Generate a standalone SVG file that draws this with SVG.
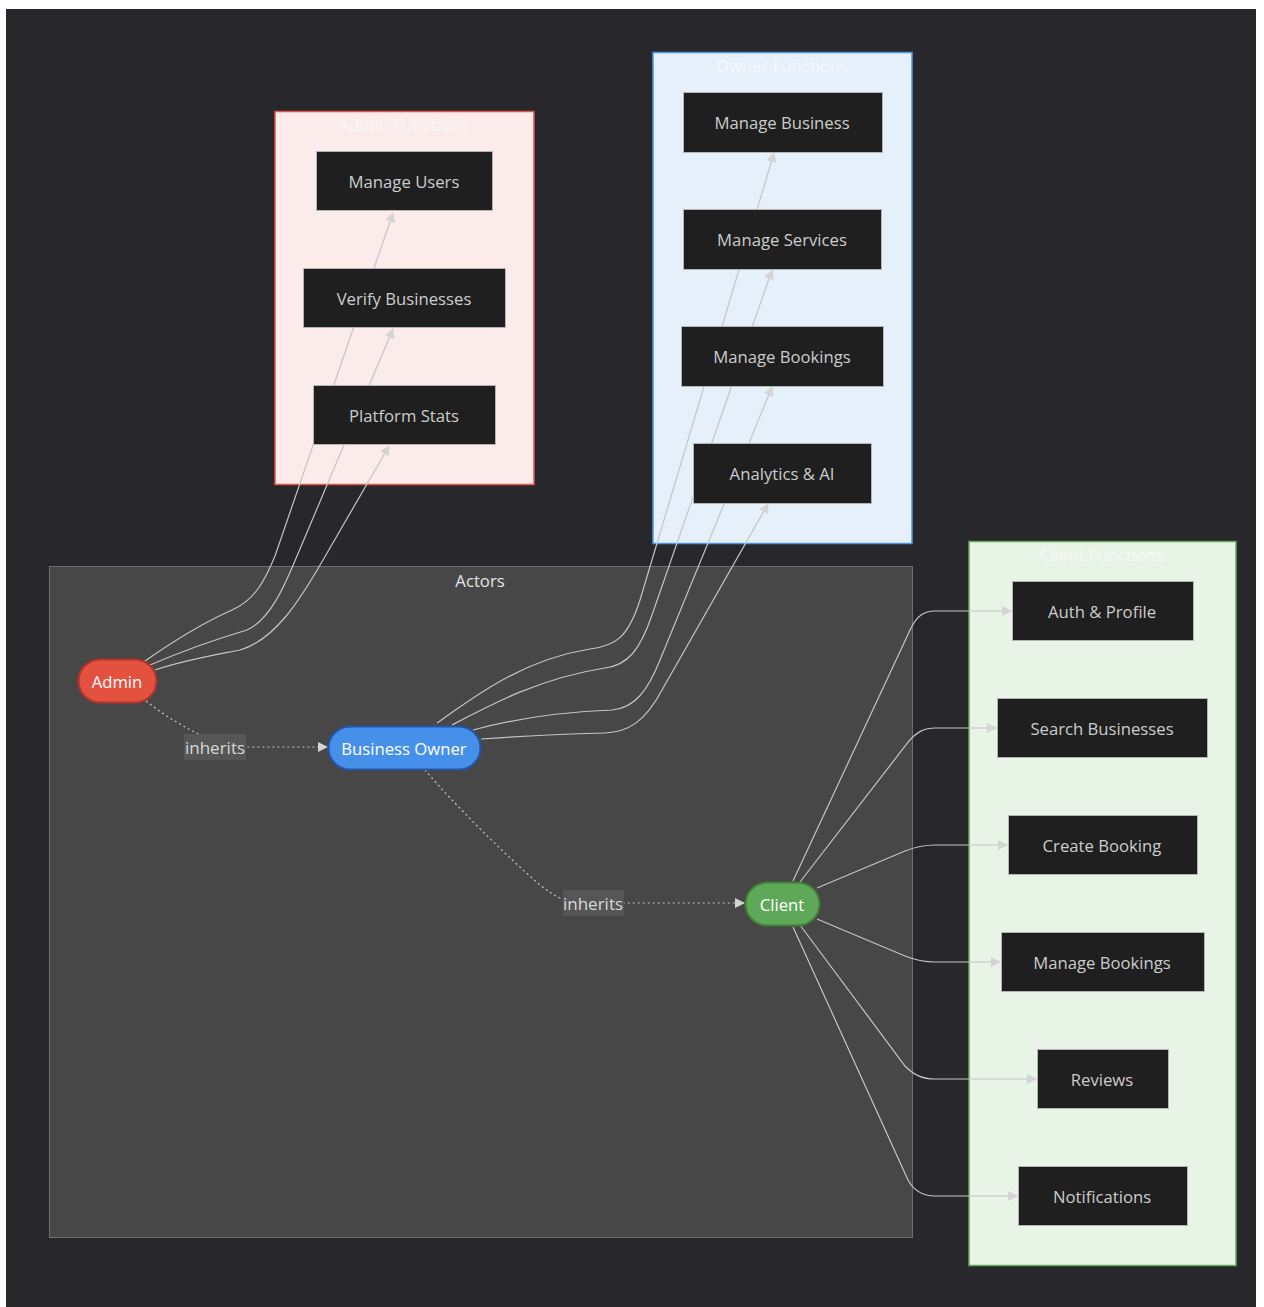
<svg xmlns="http://www.w3.org/2000/svg" width="1264" height="1307" viewBox="0 0 1264 1307">
  <defs>
    <style>
      text { font-family: "Open Sans", "DejaVu Sans", sans-serif; font-size: 16.7px; text-anchor: middle; dominant-baseline: central; }
      .cluster-title { fill: #f7f7f7; }
      .actors-title { fill: #e6e6e6; }
      .box rect { fill: #1f1f1f; stroke: #b4b4b4; stroke-width: 1; }
      .box text { fill: #cccccc; }
      .actor text { fill: #ffffff; }
      .edge { fill: none; stroke: #c4c4c4; stroke-width: 1.2; }
      .dotted { fill: none; stroke: #c4c4c4; stroke-width: 1.2; stroke-dasharray: 2 3; }
      .elabel rect { fill: #565656; }
      .elabel text { fill: #d8d8d8; font-size: 17px; }
    </style>
    <marker id="arrow" viewBox="0 0 10 10" refX="9" refY="5" markerWidth="10" markerHeight="10" markerUnits="userSpaceOnUse" orient="auto">
      <path d="M0,0 L10,5 L0,10 z" fill="#d4d4d4"/>
    </marker>
  </defs>

  <!-- canvas -->
  <rect x="0" y="0" width="1264" height="1307" fill="#ffffff"/>
  <rect x="6" y="9" width="1250" height="1298" fill="#28282c"/>

  <!-- clusters -->
  <g id="cluster-actors">
    <rect x="49.5" y="566.5" width="863" height="671" fill="#474747" stroke="#6e6e6e" stroke-width="1"/>
    <text class="actors-title" x="480" y="580">Actors</text>
  </g>
  <g id="cluster-admin">
    <rect x="275" y="111.5" width="259" height="373" fill="#fbeceb" stroke="#e0564a" stroke-width="1.5"/>
    <text class="cluster-title" x="404" y="124">Admin Functions</text>
  </g>
  <g id="cluster-owner">
    <rect x="653" y="52.5" width="259" height="491" fill="#e6f0fb" stroke="#4f94e6" stroke-width="1.5"/>
    <text class="cluster-title" x="782" y="65">Owner Functions</text>
  </g>
  <g id="cluster-client">
    <rect x="969" y="541.5" width="267" height="724" fill="#e7f4e6" stroke="#64a95c" stroke-width="1.5"/>
    <text class="cluster-title" x="1102" y="554">Client Functions</text>
  </g>

  <!-- connectors -->
  <g id="connectors">
    <!-- Admin to admin functions -->
    <path class="edge" marker-end="url(#arrow)" d="M145,661 C175,640 205,622 232,610 C255,600 265,580 275,556 L393,213"/>
    <path class="edge" marker-end="url(#arrow)" d="M150,665 C185,650 220,638 247,630 C270,620 285,585 297,556 L393,329"/>
    <path class="edge" marker-end="url(#arrow)" d="M155,670 C185,660 215,655 240,650 C275,640 300,600 323,560 L389,446"/>

    <!-- Business Owner to owner functions -->
    <path class="edge" marker-end="url(#arrow)" d="M437,723 C470,700 520,660 590,649 C615,646 628,638 640,600 L774,153"/>
    <path class="edge" marker-end="url(#arrow)" d="M452,725 C490,705 540,678 605,668 C628,665 640,650 652,615 L772,270"/>
    <path class="edge" marker-end="url(#arrow)" d="M473,730 C510,720 560,712 612,710 C635,708 648,690 660,660 L772,387"/>
    <path class="edge" marker-end="url(#arrow)" d="M481,739 C520,736 570,734 605,733 C628,732 645,722 662,690 L768,504"/>

    <!-- Client to client functions -->
    <path class="edge" marker-end="url(#arrow)" d="M793,881 L911,628 C917,616 924,611 935,611 L1011,611"/>
    <path class="edge" marker-end="url(#arrow)" d="M800,882 L909,741 C917,732 924,728 935,728 L996,728"/>
    <path class="edge" marker-end="url(#arrow)" d="M817,888 L905,851 C915,847 924,845 935,845 L1007,845"/>
    <path class="edge" marker-end="url(#arrow)" d="M817,919 L905,956 C915,960 924,962 935,962 L1000,962"/>
    <path class="edge" marker-end="url(#arrow)" d="M800,925 L905,1066 C914,1075 922,1079 935,1079 L1036,1079"/>
    <path class="edge" marker-end="url(#arrow)" d="M793,927 L908,1180 C914,1191 922,1196 935,1196 L1017,1196"/>

    <!-- inheritance -->
    <path class="dotted" marker-end="url(#arrow)" d="M146,701 C165,716 185,728 205,737 C210,742 212,747 225,747 L327,747"/>
    <path class="dotted" marker-end="url(#arrow)" d="M425,770 C455,805 500,850 540,885 C555,897 565,903 590,903 L744,903"/>

    <g class="elabel">
      <rect x="184" y="734" width="62" height="26"/>
      <text x="215" y="747">inherits</text>
    </g>
    <g class="elabel">
      <rect x="563" y="890" width="61" height="26"/>
      <text x="593" y="903">inherits</text>
    </g>
  </g>

  <!-- actor nodes -->
  <g id="node-admin" class="actor">
    <rect x="78.5" y="659.5" width="78" height="43" rx="21.5" ry="21.5" fill="#e3513f" stroke="#b3322a" stroke-width="2"/>
    <text x="117" y="681">Admin</text>
  </g>
  <g id="node-owner" class="actor">
    <rect x="328.5" y="726.5" width="152" height="43" rx="21.5" ry="21.5" fill="#4690e9" stroke="#2356ab" stroke-width="2"/>
    <text x="404" y="748">Business Owner</text>
  </g>
  <g id="node-client" class="actor">
    <rect x="745.5" y="882.5" width="74" height="43" rx="21.5" ry="21.5" fill="#5fa859" stroke="#3e7e37" stroke-width="2"/>
    <text x="782" y="904">Client</text>
  </g>

  <!-- admin functions -->
  <g id="node-manage-users" class="box">
    <rect x="316.5" y="151.5" width="176" height="59"/>
    <text x="404" y="181">Manage Users</text>
  </g>
  <g id="node-verify-businesses" class="box">
    <rect x="303.5" y="268.5" width="202" height="59"/>
    <text x="404" y="298">Verify Businesses</text>
  </g>
  <g id="node-platform-stats" class="box">
    <rect x="313.5" y="385.5" width="182" height="59"/>
    <text x="404" y="415">Platform Stats</text>
  </g>

  <!-- owner functions -->
  <g id="node-manage-business" class="box">
    <rect x="683.5" y="92.5" width="199" height="60"/>
    <text x="782" y="122">Manage Business</text>
  </g>
  <g id="node-manage-services" class="box">
    <rect x="683.5" y="209.5" width="198" height="60"/>
    <text x="782" y="239">Manage Services</text>
  </g>
  <g id="node-owner-bookings" class="box">
    <rect x="681.5" y="326.5" width="202" height="60"/>
    <text x="782" y="356">Manage Bookings</text>
  </g>
  <g id="node-analytics" class="box">
    <rect x="693.5" y="443.5" width="178" height="60"/>
    <text x="782" y="473">Analytics &amp; AI</text>
  </g>

  <!-- client functions -->
  <g id="node-auth-profile" class="box">
    <rect x="1012.5" y="581.5" width="181" height="59"/>
    <text x="1102" y="611">Auth &amp; Profile</text>
  </g>
  <g id="node-search" class="box">
    <rect x="997.5" y="698.5" width="210" height="59"/>
    <text x="1102" y="728">Search Businesses</text>
  </g>
  <g id="node-create-booking" class="box">
    <rect x="1008.5" y="815.5" width="189" height="59"/>
    <text x="1102" y="845">Create Booking</text>
  </g>
  <g id="node-client-bookings" class="box">
    <rect x="1001.5" y="932.5" width="203" height="59"/>
    <text x="1102" y="962">Manage Bookings</text>
  </g>
  <g id="node-reviews" class="box">
    <rect x="1037.5" y="1049.5" width="131" height="59"/>
    <text x="1102" y="1079">Reviews</text>
  </g>
  <g id="node-notifications" class="box">
    <rect x="1018.5" y="1166.5" width="169" height="59"/>
    <text x="1102" y="1196">Notifications</text>
  </g>
</svg>
